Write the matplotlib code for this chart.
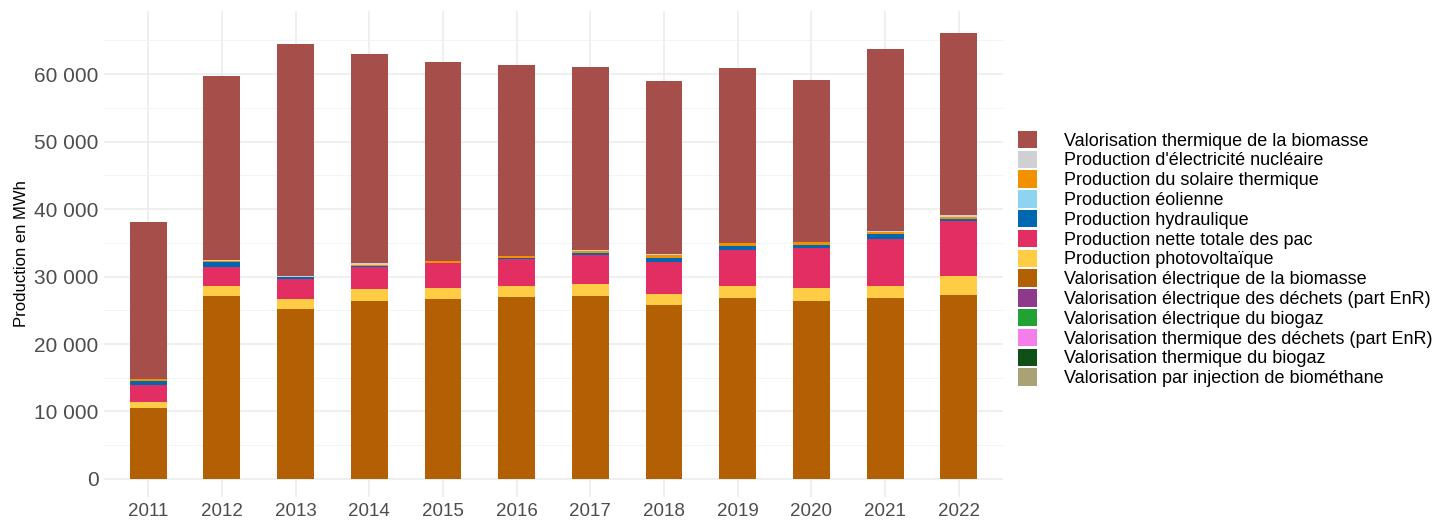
import matplotlib
matplotlib.use("Agg")
import matplotlib.pyplot as plt
import numpy as np
from matplotlib.patches import Patch
from matplotlib.ticker import FuncFormatter, MultipleLocator

plt.rcParams['font.family'] = ['Liberation Sans', 'DejaVu Sans']

years = ["2011", "2012", "2013", "2014", "2015", "2016",
         "2017", "2018", "2019", "2020", "2021", "2022"]

# Series values (MWh), stacked bottom -> top
elec_biomasse = [10590, 27170, 25250, 26430, 26730, 27020, 27170, 25840, 26870, 26430, 26870, 27320]
photovoltaique = [890, 1480, 1480, 1780, 1620, 1630, 1780, 1630, 1780, 1920, 1780, 2810]
pac = [2420, 2810, 2960, 3250, 3610, 4000, 4290, 4730, 5330, 5920, 6960, 8140]
hydraulique = [590, 740, 190, 40, 100, 50, 200, 590, 590, 450, 740, 300]
eolienne = [0, 0, 0, 0, 0, 0, 0, 0, 0, 0, 0, 0]
solaire_thermique = [300, 150, 120, 260, 190, 290, 300, 350, 350, 350, 290, 290]
nucleaire = [90, 150, 130, 200, 100, 110, 140, 150, 90, 90, 150, 200]
therm_biomasse = [23240, 27200, 34310, 31000, 29430, 28230, 27160, 25670, 25880, 23950, 26910, 27010]
elec_dechets = [0] * 12
elec_biogaz = [0] * 12
therm_dechets = [0] * 12
therm_biogaz = [0] * 12
biomethane = [0] * 12

stack = [
    ("Valorisation électrique de la biomasse", elec_biomasse, "#B35F03"),
    ("Production photovoltaïque", photovoltaique, "#FFCD45"),
    ("Production nette totale des pac", pac, "#E22E63"),
    ("Production hydraulique", hydraulique, "#0068B0"),
    ("Production éolienne", eolienne, "#8ED3F0"),
    ("Production du solaire thermique", solaire_thermique, "#F29100"),
    ("Production d'électricité nucléaire", nucleaire, "#D0D0D2"),
    ("Valorisation thermique de la biomasse", therm_biomasse, "#A64F4A"),
]

legend_order = [
    ("Valorisation thermique de la biomasse", "#A64F4A"),
    ("Production d'électricité nucléaire", "#D0D0D2"),
    ("Production du solaire thermique", "#F29100"),
    ("Production éolienne", "#8ED3F0"),
    ("Production hydraulique", "#0068B0"),
    ("Production nette totale des pac", "#E22E63"),
    ("Production photovoltaïque", "#FFCD45"),
    ("Valorisation électrique de la biomasse", "#B35F03"),
    ("Valorisation électrique des déchets (part EnR)", "#8E3A8B"),
    ("Valorisation électrique du biogaz", "#22A232"),
    ("Valorisation thermique des déchets (part EnR)", "#F57FEA"),
    ("Valorisation thermique du biogaz", "#0F4F18"),
    ("Valorisation par injection de biométhane", "#A8A275"),
]

W, H = 1437, 521
fig = plt.figure(figsize=(W / 100, H / 100), dpi=100)
ax = fig.add_axes([104 / W, 1 - 497 / H, (1003 - 104) / W, (497 - 10.6) / H])

x = np.arange(len(years))
bottom = np.zeros(len(years))
for name, vals, col in stack:
    v = np.array(vals, dtype=float)
    ax.bar(x, v, bottom=bottom, width=0.5, color=col, linewidth=0, zorder=3)
    bottom += v

ax.set_xlim(-0.6, len(years) - 0.4)
ax.set_ylim(-2670, 69400)
ax.set_xticks(x)
ax.set_xticklabels(years)
ax.yaxis.set_major_locator(MultipleLocator(10000))
ax.yaxis.set_minor_locator(MultipleLocator(5000))
ax.yaxis.set_major_formatter(FuncFormatter(lambda v, p: f"{int(round(v)):,}".replace(",", " ")))

ax.grid(True, which="major", axis="both", color="#EBEBEB", linewidth=1.1, zorder=0)
ax.grid(True, which="minor", axis="y", color="#F3F3F3", linewidth=0.7, zorder=0)
for s in ax.spines.values():
    s.set_visible(False)
ax.tick_params(axis="both", which="both", length=0)
ax.tick_params(axis="y", labelsize=15, labelcolor="#4D4D4D", pad=4)
ax.tick_params(axis="x", labelsize=13.5, labelcolor="#4D4D4D", pad=4)
ax.set_ylabel("Production en MWh", fontsize=12, color="black", labelpad=4)
ax.set_axisbelow(True)

handles = [Patch(facecolor=c, edgecolor="none", label=n) for n, c in legend_order]
fs = 13
fig.legend(handles=handles, loc="center left",
           bbox_to_anchor=(1018 / W, 1 - 259 / H), bbox_transform=fig.transFigure,
           frameon=False, fontsize=fs, borderpad=0, borderaxespad=0,
           handlelength=1.05, handleheight=1.1, handletextpad=1.5,
           labelspacing=0.055)

fig.savefig("out.png", dpi=100)
